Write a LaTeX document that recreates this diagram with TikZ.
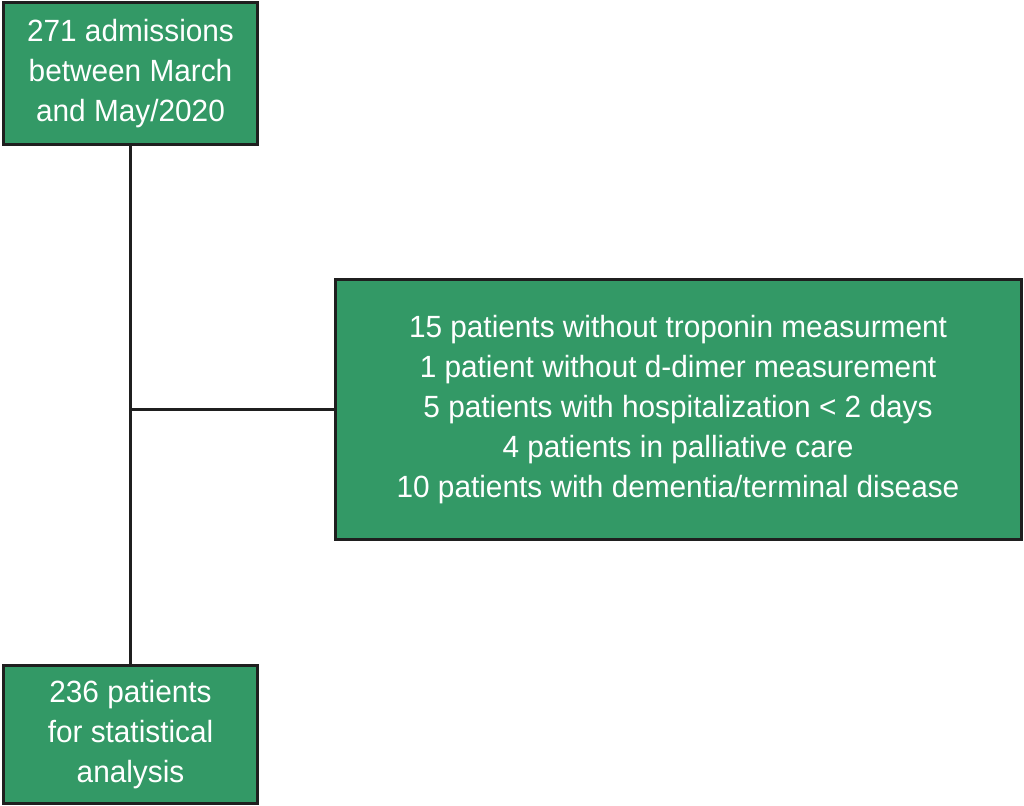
\documentclass[tikz,border=0pt]{standalone}
\usepackage{fontspec}
\setmainfont[FakeStretch=0.97]{Liberation Sans}
\usepackage{xcolor}
\usepackage{tikz}
\usetikzlibrary{positioning,calc}
\definecolor{boxgreen}{HTML}{339966}
\definecolor{boxline}{HTML}{1F1F1F}

\begin{document}
\begin{tikzpicture}[x=0.5pt,y=-0.5pt,line cap=rect,line join=miter,
  flowbox/.style={draw=boxline,line width=1.5pt,fill=boxgreen,text=white,
    align=center,inner sep=0pt,
    font=\fontsize{15.35pt}{20pt}\selectfont},
  link/.style={draw=boxline,line width=1.5pt}]
\useasboundingbox (0,0) rectangle (1024,806);
% boxes
\node[flowbox,minimum width=127pt,minimum height=71pt] (admit) at (130.5,74)
  {271 admissions\\between March\\and May/2020};
\node[flowbox,minimum width=343pt,minimum height=130pt] (excl) at (678,410)
  {15 patients without troponin measurment\\
   1 patient without d-dimer measurement\\
   5 patients with hospitalization < 2 days\\
   4 patients in palliative care\\
   10 patients with dementia/terminal disease};
\node[flowbox,minimum width=127pt,minimum height=69pt] (final) at (130.5,735)
  {236 patients\\for statistical\\analysis};
% connectors
\coordinate (split) at (admit.south |- excl.west);
\draw[link] (admit) -- (final);
\draw[link] (split) -- (excl.west);
\end{tikzpicture}
\end{document}
